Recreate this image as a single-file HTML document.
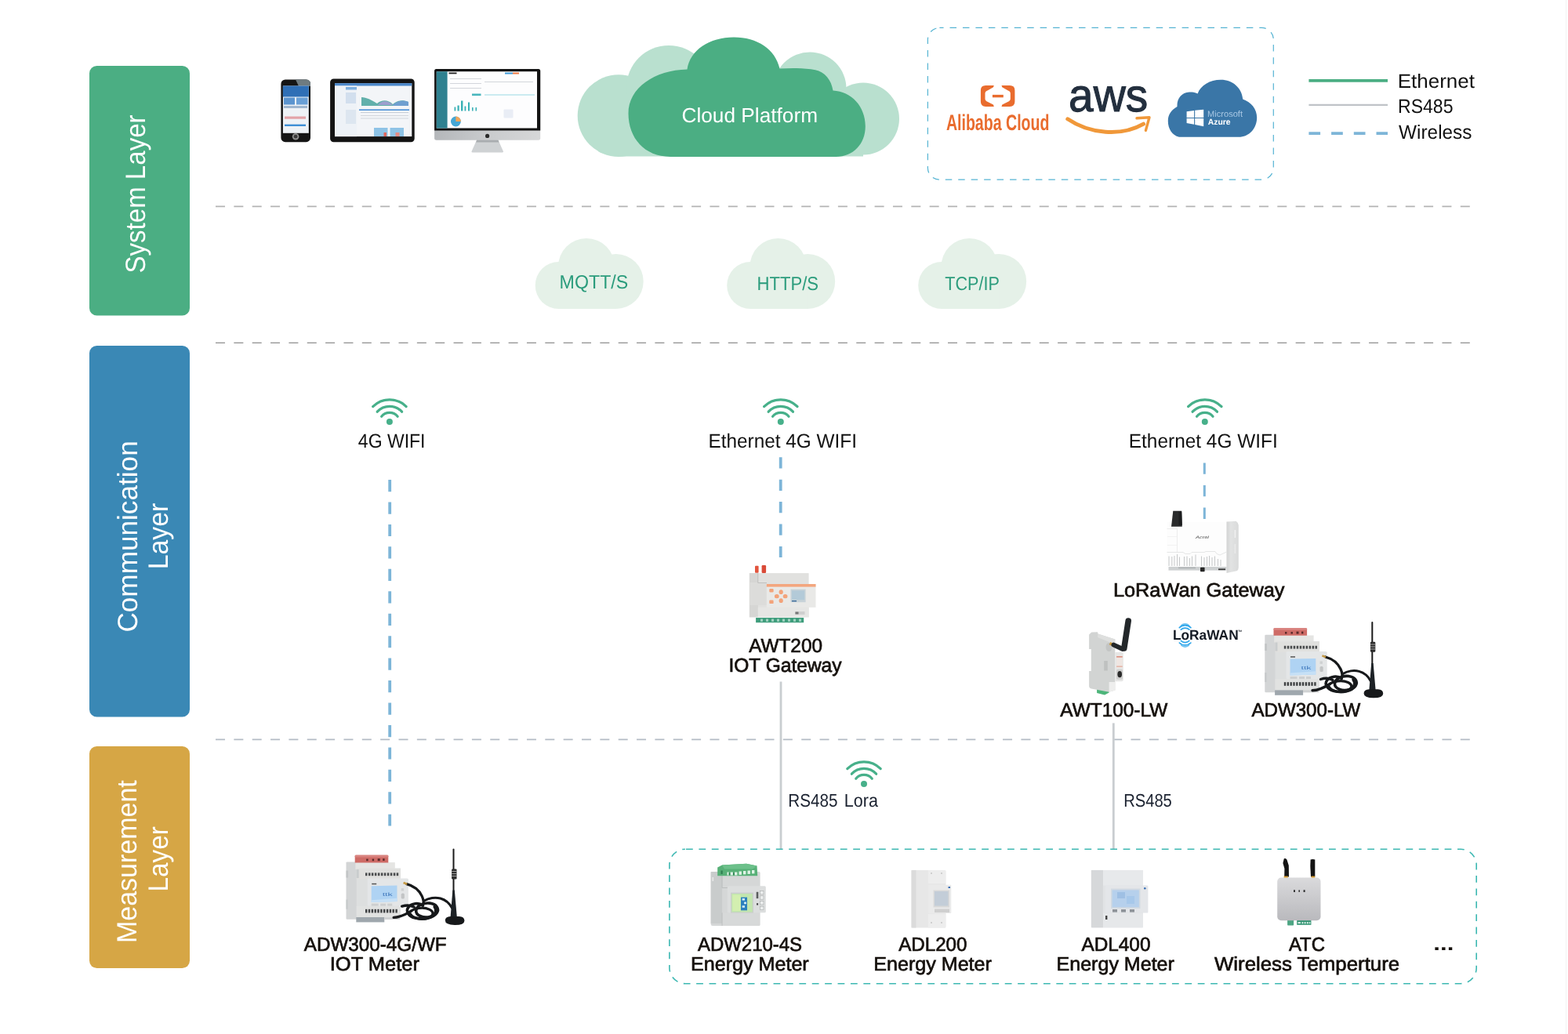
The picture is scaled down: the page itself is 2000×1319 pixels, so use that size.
<!DOCTYPE html>
<html lang="en">
<head>
<meta charset="utf-8">
<title>IoT Energy Monitoring Architecture</title>
<style>
html,body{margin:0;padding:0;background:#fff;}
body{width:2000px;height:1319px;overflow:hidden;font-family:"Liberation Sans", sans-serif;}
svg{display:block;will-change:transform;}
svg text{font-family:"Liberation Sans", sans-serif;text-rendering:geometricPrecision;}
</style>
</head>
<body>
<svg width="2000" height="1319" viewBox="0 0 2000 1319">
<rect x="0" y="0" width="2000" height="1319" fill="#ffffff"/>
<rect x="1997" y="0" width="1.2" height="1319" fill="#f3f3f3"/>
<g id="layers">
<rect x="114" y="84" width="128" height="318.5" rx="9.5" fill="#4BAE83"/>
<rect x="114" y="441" width="128" height="473.5" rx="9.5" fill="#3A88B5"/>
<rect x="114" y="952" width="128" height="283" rx="9.5" fill="#D6A645"/>
<text transform="translate(184.7 347.0) rotate(-90)" x="-1.50" y="0" font-size="35.61" font-weight="400" fill="#fff" textLength="202.05" lengthAdjust="spacingAndGlyphs">System Layer</text>
<text transform="translate(175.0 804.8) rotate(-90)" x="-1.79" y="0" font-size="35.61" font-weight="400" fill="#fff" textLength="244.27" lengthAdjust="spacingAndGlyphs">Communication</text>
<text transform="translate(213.5 723.5) rotate(-90)" x="-2.78" y="0" font-size="35.61" font-weight="400" fill="#fff" textLength="84.64" lengthAdjust="spacingAndGlyphs">Layer</text>
<text transform="translate(174.0 1200.3) rotate(-90)" x="-2.79" y="0" font-size="35.61" font-weight="400" fill="#fff" textLength="207.84" lengthAdjust="spacingAndGlyphs">Measurement</text>
<text transform="translate(213.5 1134.8) rotate(-90)" x="-2.73" y="0" font-size="35.61" font-weight="400" fill="#fff" textLength="83.28" lengthAdjust="spacingAndGlyphs">Layer</text>
</g>
<g id="separators" fill="none">
<path d="M275 263.4H1876" stroke="#b4b4b4" stroke-width="1.8" stroke-dasharray="12 11.35"/>
<path d="M275 437.4H1876" stroke="#8f8f8f" stroke-width="1.1" stroke-dasharray="12 11.35"/>
<path d="M275 943.3H1876" stroke="#b4bcc5" stroke-width="1.8" stroke-dasharray="12 11.35"/>
</g>
<g id="cloud-platform">
<g fill="#B9E0CF">
<circle cx="789" cy="147.6" r="52.3"/><circle cx="853" cy="112" r="54"/>
<circle cx="1033" cy="113" r="46.5"/><circle cx="1101" cy="151.5" r="46"/>
<rect x="789" y="120" width="312" height="79.5"/>
</g>
<path fill="#4BAE83" d="M855 199.9C822 199.9 801.5 176 801.5 144.8C801.5 112 835 89.5 876.5 88.6C880 64 905 47.6 936 47.6C966 47.6 989 63 994.5 87.6C1009 86.6 1026 86.6 1040 89.2C1052 91.5 1060.5 102 1062.5 115.6C1086 116.5 1103.8 136 1103.8 161C1103.8 184 1088 199.9 1066.5 199.9Z"/>
<text x="869.47" y="156.0" font-size="26.16" font-weight="400" fill="#fff" textLength="173.56" lengthAdjust="spacingAndGlyphs" >Cloud Platform</text>
</g>
<g id="legend">
<path d="M1669.4 102.9H1770" stroke="#4BAE83" stroke-width="3.6" fill="none"/>
<path d="M1669.4 133.8H1770" stroke="#BFC3C7" stroke-width="2.2" fill="none"/>
<path d="M1669.4 170.1H1770" stroke="#7DB5D8" stroke-width="3.6" stroke-dasharray="14.7 14" fill="none"/>
<text x="1782.77" y="111.7" font-size="25.00" font-weight="400" fill="#111" textLength="98.22" lengthAdjust="spacingAndGlyphs" >Ethernet</text>
<text x="1783.01" y="143.9" font-size="25.00" font-weight="400" fill="#111" textLength="70.46" lengthAdjust="spacingAndGlyphs" >RS485</text>
<text x="1784.09" y="176.7" font-size="25.00" font-weight="400" fill="#111" textLength="93.39" lengthAdjust="spacingAndGlyphs" >Wireless</text>
</g>
<g id="protocols">
<g fill="#E5F1E8"><circle cx="712.7" cy="364" r="30"/><circle cx="785.7" cy="359" r="35"/><circle cx="748.0" cy="340" r="36"/><rect x="712.7" y="350" width="73" height="44"/></g><text x="713.60" y="367.9" font-size="24.42" font-weight="400" fill="#2B9C7C" textLength="87.67" lengthAdjust="spacingAndGlyphs" >MQTT/S</text>
<g fill="#E5F1E8"><circle cx="957.2" cy="364" r="30"/><circle cx="1030.2" cy="359" r="35"/><circle cx="992.5" cy="340" r="36"/><rect x="957.2" y="350" width="73" height="44"/></g><text x="965.49" y="370.4" font-size="24.42" font-weight="400" fill="#2B9C7C" textLength="78.63" lengthAdjust="spacingAndGlyphs" >HTTP/S</text>
<g fill="#E5F1E8"><circle cx="1201.2" cy="364" r="30"/><circle cx="1274.2" cy="359" r="35"/><circle cx="1236.5" cy="340" r="36"/><rect x="1201.2" y="350" width="73" height="44"/></g><text x="1205.21" y="370.4" font-size="24.42" font-weight="400" fill="#2B9C7C" textLength="69.62" lengthAdjust="spacingAndGlyphs" >TCP/IP</text>
</g>
<g id="wifi">
<g fill="none" stroke="#47B08A" stroke-width="3.2" stroke-linecap="round"><path d="M475.69 518.59A30 30 0 0 1 518.11 518.59"/><path d="M481.25 525.21A21.4 21.4 0 0 1 512.55 525.21"/><path d="M486.64 531.19A13.4 13.4 0 0 1 507.16 531.19"/><circle cx="496.9" cy="538" r="4" fill="#47B08A" stroke="none"/></g>
<text x="456.87" y="571.0" font-size="25.15" font-weight="400" fill="#111" textLength="85.65" lengthAdjust="spacingAndGlyphs" >4G WIFI</text>
<g fill="none" stroke="#47B08A" stroke-width="3.2" stroke-linecap="round"><path d="M974.59 518.59A30 30 0 0 1 1017.01 518.59"/><path d="M980.15 525.21A21.4 21.4 0 0 1 1011.45 525.21"/><path d="M985.54 531.19A13.4 13.4 0 0 1 1006.06 531.19"/><circle cx="995.8" cy="538" r="4" fill="#47B08A" stroke="none"/></g>
<text x="903.50" y="571.0" font-size="25.15" font-weight="400" fill="#111" textLength="189.44" lengthAdjust="spacingAndGlyphs" >Ethernet 4G WIFI</text>
<g fill="none" stroke="#47B08A" stroke-width="3.2" stroke-linecap="round"><path d="M1515.59 518.59A30 30 0 0 1 1558.01 518.59"/><path d="M1521.15 525.21A21.4 21.4 0 0 1 1552.45 525.21"/><path d="M1526.54 531.19A13.4 13.4 0 0 1 1547.06 531.19"/><circle cx="1536.8" cy="538" r="4" fill="#47B08A" stroke="none"/></g>
<text x="1439.80" y="571.3" font-size="25.15" font-weight="400" fill="#111" textLength="189.96" lengthAdjust="spacingAndGlyphs" >Ethernet 4G WIFI</text>
<g fill="none" stroke="#47B08A" stroke-width="3.2" stroke-linecap="round"><path d="M1080.79 980.59A30 30 0 0 1 1123.21 980.59"/><path d="M1086.35 987.21A21.4 21.4 0 0 1 1117.65 987.21"/><path d="M1091.74 993.19A13.4 13.4 0 0 1 1112.26 993.19"/><circle cx="1102" cy="1000" r="4" fill="#47B08A" stroke="none"/></g>
</g>
<g id="links" fill="none">
<path d="M497.2 612V1053.5" stroke="#7DB5D8" stroke-width="3.8" stroke-dasharray="15.2 13.25"/>
<path d="M995.7 583.3V711" stroke="#7DB5D8" stroke-width="3.8" stroke-dasharray="14.2 14.2"/>
<path d="M1536.3 590.4V662" stroke="#7DB5D8" stroke-width="3" stroke-dasharray="14.3 14.3"/>
<path d="M996 869.5V1083" stroke="#C9CDD0" stroke-width="2.8"/>
<path d="M1420.3 922.4V1083" stroke="#C9CDD0" stroke-width="2.8"/>
</g>
<path d="M1198.4 35.4H1609.3A15 15 0 0 1 1624.3 50.4V214.2A15 15 0 0 1 1609.3 229.2H1198.4A15 15 0 0 1 1183.4 214.2V50.4A15 15 0 0 1 1198.4 35.4Z" fill="none" stroke="#56B4D3" stroke-width="1.2" stroke-dasharray="8.5 7.95" stroke-dashoffset="3.35"/>
<path d="M873.9 1083.2H1863.2A20 20 0 0 1 1883.2 1103.2V1234.7A20 20 0 0 1 1863.2 1254.7H873.9A20 20 0 0 1 853.9 1234.7V1103.2A20 20 0 0 1 873.9 1083.2Z" fill="none" stroke="#3DB8B2" stroke-width="1.6" stroke-dasharray="8.8 7.60" stroke-dashoffset="15.30"/>
<g id="labels">
<text x="955.25" y="832.3" font-size="24.71" font-weight="400" fill="#15100c" stroke="#15100c" stroke-width="0.7" textLength="93.69" lengthAdjust="spacingAndGlyphs" >AWT200</text>
<text x="929.44" y="856.6" font-size="24.71" font-weight="400" fill="#15100c" stroke="#15100c" stroke-width="0.7" textLength="144.11" lengthAdjust="spacingAndGlyphs" >IOT Gateway</text>
<text x="1419.93" y="761.4" font-size="24.71" font-weight="400" fill="#15100c" stroke="#15100c" stroke-width="0.7" textLength="218.62" lengthAdjust="spacingAndGlyphs" >LoRaWan Gateway</text>
<text x="1352.35" y="914.0" font-size="24.71" font-weight="400" fill="#15100c" stroke="#15100c" stroke-width="0.7" textLength="136.93" lengthAdjust="spacingAndGlyphs" >AWT100-LW</text>
<text x="1596.45" y="914.0" font-size="24.71" font-weight="400" fill="#15100c" stroke="#15100c" stroke-width="0.7" textLength="138.83" lengthAdjust="spacingAndGlyphs" >ADW300-LW</text>
<text x="1005.31" y="1029.0" font-size="23.26" font-weight="400" fill="#1b2230" textLength="63.16" lengthAdjust="spacingAndGlyphs" >RS485</text>
<text x="1076.83" y="1029.0" font-size="23.26" font-weight="400" fill="#1b2230" textLength="43.17" lengthAdjust="spacingAndGlyphs" >Lora</text>
<text x="1433.14" y="1029.0" font-size="23.26" font-weight="400" fill="#1b2230" textLength="61.70" lengthAdjust="spacingAndGlyphs" >RS485</text>
<text x="387.85" y="1213.1" font-size="24.71" font-weight="400" fill="#15100c" stroke="#15100c" stroke-width="0.7" textLength="181.72" lengthAdjust="spacingAndGlyphs" >ADW300-4G/WF</text>
<text x="420.76" y="1237.7" font-size="24.71" font-weight="400" fill="#15100c" stroke="#15100c" stroke-width="0.7" textLength="114.16" lengthAdjust="spacingAndGlyphs" >IOT Meter</text>
<text x="889.95" y="1213.0" font-size="24.71" font-weight="400" fill="#15100c" stroke="#15100c" stroke-width="0.7" textLength="133.15" lengthAdjust="spacingAndGlyphs" >ADW210-4S</text>
<text x="880.94" y="1237.5" font-size="24.71" font-weight="400" fill="#15100c" stroke="#15100c" stroke-width="0.7" textLength="150.78" lengthAdjust="spacingAndGlyphs" >Energy Meter</text>
<text x="1146.25" y="1213.0" font-size="24.71" font-weight="400" fill="#15100c" stroke="#15100c" stroke-width="0.7" textLength="87.19" lengthAdjust="spacingAndGlyphs" >ADL200</text>
<text x="1114.24" y="1237.5" font-size="24.71" font-weight="400" fill="#15100c" stroke="#15100c" stroke-width="0.7" textLength="150.68" lengthAdjust="spacingAndGlyphs" >Energy Meter</text>
<text x="1379.45" y="1213.0" font-size="24.71" font-weight="400" fill="#15100c" stroke="#15100c" stroke-width="0.7" textLength="88.00" lengthAdjust="spacingAndGlyphs" >ADL400</text>
<text x="1347.54" y="1237.5" font-size="24.71" font-weight="400" fill="#15100c" stroke="#15100c" stroke-width="0.7" textLength="150.37" lengthAdjust="spacingAndGlyphs" >Energy Meter</text>
<text x="1643.96" y="1213.0" font-size="24.71" font-weight="400" fill="#15100c" stroke="#15100c" stroke-width="0.7" textLength="45.92" lengthAdjust="spacingAndGlyphs" >ATC</text>
<text x="1548.99" y="1237.5" font-size="24.71" font-weight="400" fill="#15100c" stroke="#15100c" stroke-width="0.7" textLength="236.14" lengthAdjust="spacingAndGlyphs" >Wireless Temperture</text>
<text x="1828.28" y="1212.0" font-size="24.71" font-weight="700" fill="#15100c" textLength="26.08" lengthAdjust="spacingAndGlyphs" >...</text>
</g>
<g id="screens">
<rect x="358.4" y="101.4" width="37.6" height="79.8" rx="5.5" fill="#151515"/>
<path d="M377 101.6H391a5 5 0 0 1 5 5V110H381Z" fill="#6f7b80"/>
<rect x="360.9" y="109.5" width="32.9" height="60.3" fill="#eef2f6"/>
<rect x="360.9" y="109.5" width="32.9" height="14" fill="#2f6fb6"/>
<rect x="362" y="124.5" width="14" height="9" fill="#5b94cf"/><rect x="378" y="124.5" width="14.5" height="9" fill="#6aa0d6"/>
<rect x="362" y="135" width="30" height="3" fill="#9fb6cf"/>
<rect x="363" y="148.5" width="27" height="3.2" fill="#e3a3a8"/>
<rect x="363" y="158.6" width="27" height="2.4" fill="#3f8fd6"/>
<circle cx="377.1" cy="174.2" r="4.3" fill="#8d8d8d"/><circle cx="377.1" cy="174.2" r="2.4" fill="#3a3a3a"/>
<rect x="421.1" y="100.4" width="107.6" height="80.8" rx="4.5" fill="#141414"/>
<rect x="427" y="106.1" width="98.3" height="68" fill="#f3f5f8"/>
<rect x="427" y="106.1" width="98.3" height="3.4" fill="#4a86c8"/>
<rect x="427" y="109.5" width="28" height="64.6" fill="#eef2f7"/>
<rect x="441" y="111" width="14" height="3.5" fill="#7fb0e0"/>
<rect x="441" y="118" width="13" height="14" fill="#d2dfee"/><rect x="441" y="140" width="13" height="18" fill="#dde6f0"/>
<path d="M461 124C468 124.5 473 127 481 132C487 127 495 127 501 133C507 128 513 127 521 130V135H461Z" fill="#62b0ab"/>
<path d="M482 134C487 127.5 495 127.5 501 134Z" fill="#9c9fce"/>
<path d="M501 134C507 128 514 127.5 521 130V135H501Z" fill="#6f9fd0"/>
<rect x="458" y="139.4" width="64" height="1.6" fill="#4a8fd6"/>
<rect x="460" y="143" width="61" height="1" fill="#c9ced6"/><rect x="460" y="147" width="61" height="1" fill="#d2d6dc"/><rect x="460" y="150.5" width="61" height="1" fill="#d2d6dc"/>
<rect x="477" y="163" width="17.5" height="11" fill="#8ec3e6"/><rect x="497.5" y="163" width="17.5" height="11" fill="#8ec3e6"/>
<rect x="489.5" y="169" width="3.5" height="5" fill="#e0685e"/><rect x="504.5" y="169" width="5" height="5" fill="#e58b84"/>
<path d="M608.3 178H635.2L642 193.2C642 194.2 641 194.6 640 194.6H603.5C602.3 194.6 601.3 194.2 601.5 193.2Z" fill="#cfd2d4"/>
<path d="M608.3 178H635.2L636.6 181.5H607.2Z" fill="#a9adb0"/>
<linearGradient id="chin" x1="0" y1="0" x2="1" y2="0"><stop offset="0" stop-color="#B4B7BA"/><stop offset="0.5" stop-color="#C9CBCD"/><stop offset="1" stop-color="#D6D7D8"/></linearGradient>
<rect x="554.1" y="88" width="135.1" height="90.8" rx="2.5" fill="url(#chin)"/>
<path d="M556.6 88H686.7a2.5 2.5 0 0 1 2.5 2.5V166.6H554.1V90.5a2.5 2.5 0 0 1 2.5-2.5Z" fill="#131313"/>
<rect x="556.8" y="91.2" width="128.2" height="72.3" fill="#fdfdfe"/>
<rect x="556.8" y="91.2" width="13.8" height="72.3" fill="#2f8190"/>
<rect x="572.5" y="92.5" width="10" height="1.8" fill="#222"/>
<rect x="644" y="92.5" width="10" height="2" fill="#3d9ad8"/><rect x="654" y="92.5" width="8" height="2" fill="#ef7b45"/>
<g fill="#38b0b5"><rect x="579.5" y="136.5" width="1.8" height="5"/><rect x="583.5" y="134.5" width="2.2" height="7"/><rect x="588" y="128.5" width="2.4" height="13"/><rect x="592.5" y="135.5" width="1.8" height="6"/><rect x="597" y="130.5" width="2" height="11"/><rect x="602" y="137" width="1.6" height="4.5"/><rect x="606.5" y="137" width="1.6" height="4.5"/></g>
<rect x="602" y="119.5" width="11.5" height="2.6" fill="#49b6bd"/>
<rect x="618" y="120.2" width="64" height="1.6" fill="#bfe6ee"/>
<circle cx="581.4" cy="155" r="6.4" fill="#45a7d6"/><path d="M581.4 155V148.6A6.4 6.4 0 0 1 587.8 155Z" fill="#f2a65a"/>
<rect x="642.5" y="139.5" width="12" height="11" rx="1" fill="#e9edf5"/>
<g fill="#c8ccd2"><rect x="574" y="100" width="40" height="0.8"/><rect x="574" y="106" width="40" height="0.8"/><rect x="574" y="112" width="40" height="0.8"/><rect x="618" y="104" width="62" height="0.8"/></g>
<circle cx="621.6" cy="173.4" r="2.6" fill="#2b2b2b"/>
</g>
<g id="partners">
<path d="M1257.3 108.9H1267.8L1267 111.2L1260 115.2Q1256.5 116.5 1256.5 119V126Q1256.5 128.6 1260 130L1267 133.6L1267.8 135.9H1257.3Q1250.9 135.9 1250.9 129.5V115.3Q1250.9 108.9 1257.3 108.9Z" fill="#E96C2E"/>
<path d="M1257.3 108.9H1267.8L1267 111.2L1260 115.2Q1256.5 116.5 1256.5 119V126Q1256.5 128.6 1260 130L1267 133.6L1267.8 135.9H1257.3Q1250.9 135.9 1250.9 129.5V115.3Q1250.9 108.9 1257.3 108.9Z" fill="#E96C2E" transform="translate(2545.3 0) scale(-1 1)"/>
<rect x="1265.9" y="120.9" width="13.9" height="3.4" fill="#E96C2E"/>
<text x="1206.91" y="165.5" font-size="28.34" font-weight="700" fill="#E96C2E" textLength="131.58" lengthAdjust="spacingAndGlyphs" >Alibaba Cloud</text>
<text x="1363.08" y="142.2" font-size="59.30" font-weight="400" fill="#232F3E" stroke="#232F3E" stroke-width="1.1" textLength="101.17" lengthAdjust="spacingAndGlyphs" >aws</text>
<path d="M1361.8 151.8C1390 171 1430 174.5 1458.5 158.2" fill="none" stroke="#F0983A" stroke-width="5" stroke-linecap="round"/>
<path d="M1450 150.8L1466 149.8L1461.4 166.4" fill="none" stroke="#F0983A" stroke-width="3.4" stroke-linejoin="round" stroke-linecap="round"/>
<path fill="#3A76A7" d="M1504 174.8C1495 172.5 1489.8 164 1489.8 154.4C1489.8 146 1494 140.3 1501.5 136C1501 126 1507 118 1517 117.6C1521 117.4 1525 118 1527.6 119.4C1531.5 109 1543 101.8 1557.2 101.8C1572 101.8 1584 112 1585.2 126.6C1596 130.5 1603.2 139 1603.2 150C1603.2 164 1593 174.8 1580 174.8Z"/>
<g fill="#fff"><path d="M1513.6 142.3L1523.1 140.9V149.9H1513.6Z"/><path d="M1524.2 140.8L1535.2 139.7V149.9H1524.2Z"/><path d="M1513.6 151H1523.1V158.8L1513.6 157.1Z"/><path d="M1524.2 151H1535.2V161.3L1524.2 159Z"/></g>
<text x="1540.09" y="148.8" font-size="11.05" font-weight="400" fill="#a9c8e4" textLength="44.89" lengthAdjust="spacingAndGlyphs" >Microsoft</text>
<text x="1540.74" y="159.4" font-size="10.47" font-weight="700" fill="#ffffff" textLength="28.91" lengthAdjust="spacingAndGlyphs" >Azure</text>
</g>
<g id="awt200">
<rect x="963" y="721.8" width="4.6" height="9" rx="1" fill="#E2553E"/><rect x="971.6" y="721.1" width="5.5" height="9.8" rx="1.2" fill="#D94B38"/>
<rect x="955.9" y="731.1" width="75.7" height="56.2" fill="#E1E1DF"/>
<rect x="955.9" y="731.1" width="11" height="56.2" fill="#D6D6D4"/>
<rect x="955.9" y="743" width="21.9" height="29" fill="#DCDCDA"/>
<rect x="966.8" y="774.8" width="64.8" height="12.5" fill="#E6E6E4"/>
<path d="M966.8 731.1V743.5H978" stroke="#b9b9b7" stroke-width="0.8" fill="none"/>
<rect x="977.8" y="745" width="62.7" height="29.8" fill="#E9E9E7"/>
<rect x="977.8" y="745" width="62.7" height="3.6" fill="#F3A67E"/>
<rect x="1008.5" y="751.6" width="19.1" height="16.6" fill="#C7D2D8"/><rect x="1010" y="753.4" width="16.2" height="11.8" fill="#B3CAD8"/><rect x="1010" y="766" width="6" height="1.4" fill="#3c6a9a"/>
<g fill="#F3A37A"><rect x="981.3" y="751" width="5.3" height="4.5" rx="1.2"/><rect x="981.3" y="765.6" width="5.3" height="4.5" rx="1.2"/>
<ellipse cx="996.2" cy="755.2" rx="2.6" ry="2.9"/><ellipse cx="996.2" cy="766.2" rx="2.6" ry="2.9"/><ellipse cx="990.8" cy="760.7" rx="2.9" ry="2.6"/><ellipse cx="1001.6" cy="760.7" rx="2.9" ry="2.6"/></g>
<rect x="1014" y="780" width="12.5" height="4" fill="#cfcfcf"/><rect x="1014.5" y="780.5" width="4" height="3" fill="#777"/>
<rect x="964.1" y="788" width="61.1" height="6.2" fill="#3F9D7C"/>
<g fill="#9fd2bf"><rect x="970" y="789.5" width="3" height="3.4"/><rect x="977" y="789.5" width="3" height="3.4"/><rect x="984" y="789.5" width="3" height="3.4"/><rect x="991" y="789.5" width="3" height="3.4"/><rect x="998" y="789.5" width="3" height="3.4"/><rect x="1005" y="789.5" width="3" height="3.4"/><rect x="1012" y="789.5" width="3" height="3.4"/><rect x="1019" y="789.5" width="3" height="3.4"/></g>
</g>
<g id="lorawan-gw">
<linearGradient id="gwg" x1="0" y1="0" x2="1" y2="0"><stop offset="0" stop-color="#D2D3D3"/><stop offset="0.35" stop-color="#E2E3E3"/><stop offset="1" stop-color="#D9DADA"/></linearGradient>
<rect x="1488.5" y="666" width="76" height="62" fill="#FDFDFD"/>
<path d="M1488.5 674.5H1501.5V704" stroke="#E9E9E9" stroke-width="0.8" fill="none"/>
<path d="M1489 684.5H1501M1489 695.5H1501" stroke="#EFEFEF" stroke-width="0.8" fill="none"/>
<path d="M1564.5 665.4L1576.5 664.8Q1579.8 667 1579.8 670V724Q1579.8 727 1577.5 728.2L1564.5 731Z" fill="url(#gwg)"/>
<rect x="1574.6" y="676" width="1.6" height="10" fill="#F0F0F0"/><rect x="1574.6" y="694" width="1.6" height="12" fill="#EAEAEA"/>
<path d="M1488.5 704.5H1509L1512 706.5H1518L1520 704.5H1536L1538 703.5H1550L1552 706.5L1556 708L1564.5 704" stroke="#E2E3E3" stroke-width="0.9" fill="none"/>
<g stroke="#C6C8C9" stroke-width="1" fill="none"><path d="M1491 709.5V722M1494.8 710V722M1498 709V722M1501.5 707V722M1504.5 710.5V722M1510.5 710V722M1514 709.5V722M1517.5 712V722M1520.5 709.5V722M1525 707.5V722M1532.5 709.5V722M1536 711V722M1539.5 710V722M1542.5 709V722M1546 711V722M1549.5 709.5V722M1553.5 713V722M1557 714V722"/></g>
<rect x="1490.5" y="723" width="74" height="4.6" fill="#CDD0D1"/>
<rect x="1503" y="723.6" width="22" height="1.6" fill="#AEB2B4"/>
<rect x="1531" y="723.8" width="5.6" height="5.4" rx="0.8" fill="#262626"/>
<rect x="1554" y="725.4" width="9" height="1.8" fill="#3a3a3a"/>
<path d="M1496.3 651.8H1507.2L1507.8 671.8H1494Z" fill="#2a2b2c"/>
<path d="M1503.5 652.5H1507.2L1507.8 670H1503.5Z" fill="#1d1e1f"/>
<text x="1525" y="687.3" font-size="5" font-style="italic" fill="#4a4a4a" textLength="17" lengthAdjust="spacingAndGlyphs">Acrel</text>
</g>
<g id="awt100">
<path d="M1399.1 878.5H1414.6V883.5L1409 886.6L1399.1 884Z" fill="#4DB57A"/>
<path d="M1389.1 809.5L1392.3 806.6L1400 806.2L1400.5 808.5L1422.3 815.5V880.5L1414.6 882.8L1392 878.5Q1389.1 877.8 1389.1 875V856H1391.8V828H1389.1Z" fill="#D2D4D3"/>
<path d="M1400.5 808.5L1422.3 815.5V822L1400 813Z" fill="#DEDFDE"/>
<rect x="1408.2" y="843" width="4.6" height="12.5" fill="#BFC1C0"/>
<ellipse cx="1414.5" cy="825.5" rx="4" ry="5.5" fill="#C3C5C4"/>
<path d="M1414.6 870H1422.8V880.4L1414.6 882.8Z" fill="#EEEEED"/>
<path d="M1422.3 831.9H1430.6Q1432.8 831.9 1432.8 834V867Q1432.8 869.2 1430.6 869.2H1422.3Z" fill="#E6E6E5"/>
<rect x="1424.1" y="836.4" width="7.6" height="15.5" fill="#EFE6E2"/><rect x="1424.1" y="837.2" width="7.6" height="1.3" fill="#D77B68"/><rect x="1424.1" y="849.6" width="7.6" height="1.1" fill="#E0A090"/>
<rect x="1424" y="853.8" width="8" height="13" rx="1.5" fill="#CFCFCE"/><ellipse cx="1428.2" cy="860.2" rx="2.8" ry="4.1" fill="#2a2a2a"/>
<path d="M1415.5 820.6L1420 822.8" stroke="#C9983E" stroke-width="3.6" fill="none"/>
<path d="M1420.5 822.6L1431.5 827.8" stroke="#23272a" stroke-width="6" stroke-linecap="round" fill="none"/>
<path d="M1433.8 827L1439.2 792" stroke="#23272a" stroke-width="7.6" stroke-linecap="round" fill="none"/>
</g>
<g id="adw300-lw" transform="translate(0 0)"><path d="M1613.3 811Q1613.3 809.8 1614.6 809.8H1627V883.2H1614.6Q1613.3 883.2 1613.3 882Z" fill="#D3D5D6"/><rect x="1613.3" y="821" width="2.6" height="9" fill="#C2C5C6"/><rect x="1613.3" y="858" width="2.2" height="12" fill="#C6C9CA"/><rect x="1626.5" y="818" width="56.3" height="63" fill="#DDDFDF"/><rect x="1625.2" y="810.5" width="50.4" height="9" fill="#E5E5E3"/><rect x="1626.5" y="818.3" width="56.3" height="13.6" fill="#E0E0DE"/><rect x="1626.5" y="819.5" width="3" height="11" fill="#C9CCCD"/><g fill="#4a4c4e"><rect x="1637.8" y="823.8" width="2.5" height="3.8"/><rect x="1641.8" y="823.8" width="2.5" height="3.8"/><rect x="1645.7" y="823.8" width="2.5" height="3.8"/><rect x="1649.7" y="823.8" width="2.5" height="3.8"/><rect x="1653.7" y="823.8" width="2.5" height="3.8"/><rect x="1657.7" y="823.8" width="2.5" height="3.8"/><rect x="1661.6" y="823.8" width="2.5" height="3.8"/><rect x="1665.6" y="823.8" width="2.5" height="3.8"/><rect x="1669.6" y="823.8" width="2.5" height="3.8"/><rect x="1673.6" y="823.8" width="2.5" height="3.8"/><rect x="1677.5" y="823.8" width="2.5" height="3.8"/></g><rect x="1626.5" y="866" width="56.3" height="14.6" fill="#E1E2E1"/><g fill="#3f4143"><rect x="1637.8" y="870.2" width="2.4" height="4.6"/><rect x="1641.6" y="870.2" width="2.4" height="4.6"/><rect x="1645.5" y="870.2" width="2.4" height="4.6"/><rect x="1649.3" y="870.2" width="2.4" height="4.6"/><rect x="1653.1" y="870.2" width="2.4" height="4.6"/><rect x="1657.0" y="870.2" width="2.4" height="4.6"/><rect x="1660.8" y="870.2" width="2.4" height="4.6"/><rect x="1664.7" y="870.2" width="2.4" height="4.6"/><rect x="1668.5" y="870.2" width="2.4" height="4.6"/><rect x="1672.3" y="870.2" width="2.4" height="4.6"/><rect x="1676.2" y="870.2" width="2.4" height="4.6"/></g><rect x="1626.1" y="880.4" width="36" height="6.4" fill="#9FA7AD"/><rect x="1662" y="880.4" width="20" height="3" fill="#D0D2D3"/><path d="M1625.8 801.2H1665.8Q1667.1 801.2 1667.1 802.6V810.8H1624.5V802.6Q1624.5 801.2 1625.8 801.2Z" fill="#CE6B66"/><rect x="1624.5" y="801.2" width="42.6" height="2.6" rx="1.2" fill="#D98480"/><g fill="#5a2a2a"><rect x="1639" y="806" width="2.4" height="2.6"/><rect x="1646.5" y="806" width="2.4" height="2.6"/><rect x="1653.5" y="805.6" width="3" height="3"/><rect x="1660" y="805.6" width="2.4" height="2.8"/></g><path d="M1642 830.9H1691Q1692.7 830.9 1692.7 832.6V864.3Q1692.7 866 1691 866H1642Q1640.5 866 1640.5 864.3V832.6Q1640.5 830.9 1642 830.9Z" fill="#E4E6E7"/><path d="M1645.5 840.6L1678.3 839.9V860.4L1645.5 861.5Z" fill="#AFD3F3"/><path d="M1645.5 858.6L1678.3 856.2V860.4L1645.5 861.5Z" fill="#C6E0F6"/><text x="1659.5" y="853.8" font-size="6.4" fill="#3f78bd" textLength="13" lengthAdjust="spacingAndGlyphs">ttk</text><rect x="1646" y="837.2" width="6" height="1.5" fill="#555"/><rect x="1683.5" y="850" width="4.2" height="7" rx="1.6" fill="#C2C4C5"/><rect x="1683.5" y="843.5" width="3.4" height="3.4" fill="#CFD1D2"/><g fill="#CDCFD0"><rect x="1645.5" y="863" width="9" height="3"/><rect x="1657" y="863" width="7" height="3"/><rect x="1666" y="863" width="6" height="3"/></g><g fill="none" stroke="#16181a" stroke-linecap="round"><path stroke-width="3.3" d="M1690.5 838C1700 840.5 1706.5 846 1710 853.5C1712.5 859 1712.5 862.5 1711.2 865.5"/><path stroke-width="3.6" d="M1711.2 865.5C1706 861.5 1696.5 862.5 1692.5 868C1689 873 1693 879.5 1701.5 881.5C1712 884 1724.5 881.5 1729 875C1732.5 869.5 1728.5 863.5 1720 862.5C1711 861.5 1703 866 1702.5 872C1702 878 1712 882.5 1721 879.5C1727.5 877.3 1729.5 871.5 1726 867"/><path stroke-width="3.2" d="M1694 874C1700 868.5 1712 867 1719.5 870.5C1726 873.5 1725 879.5 1717 881.8C1708 884.2 1697.5 881 1695.5 876.5"/><path stroke-width="3.4" d="M1684.5 866.5C1690 864.8 1696 865.2 1700 867.5M1674 880.8C1682 880.5 1690 876.5 1696.5 872.5"/><path stroke-width="3" d="M1713 859.5C1718.5 855.8 1727 854.6 1733.5 856.4C1740 858.2 1745 862.5 1748.2 868.5"/></g><path d="M1686.4 836.4L1691 838.2" stroke="#C59A45" stroke-width="2.6" fill="none"/><rect x="1749.3" y="793" width="2" height="60" rx="1" fill="#1a1a1a"/><rect x="1747.9" y="818.8" width="6.4" height="13" rx="1.2" fill="#2b2b2b"/><g stroke="#b8b8b8" stroke-width="0.9"><path d="M1748 822H1754.2M1748 825H1754.2M1748 828H1754.2"/></g><path d="M1749.2 846H1751.6L1754.6 880H1746.4Z" fill="#1d2226"/><path d="M1739.6 884.5Q1739.6 879.5 1746.5 879.3H1757.5Q1764.2 879.5 1764.2 884.8Q1764.2 890.3 1752 890.3Q1739.6 890.3 1739.6 884.5Z" fill="#17191b"/></g>
<g id="adw300-4g" transform="translate(-1171.8 289.6)"><path d="M1613.3 811Q1613.3 809.8 1614.6 809.8H1627V883.2H1614.6Q1613.3 883.2 1613.3 882Z" fill="#D3D5D6"/><rect x="1613.3" y="821" width="2.6" height="9" fill="#C2C5C6"/><rect x="1613.3" y="858" width="2.2" height="12" fill="#C6C9CA"/><rect x="1626.5" y="818" width="56.3" height="63" fill="#DDDFDF"/><rect x="1625.2" y="810.5" width="50.4" height="9" fill="#E5E5E3"/><rect x="1626.5" y="818.3" width="56.3" height="13.6" fill="#E0E0DE"/><rect x="1626.5" y="819.5" width="3" height="11" fill="#C9CCCD"/><g fill="#4a4c4e"><rect x="1637.8" y="823.8" width="2.5" height="3.8"/><rect x="1641.8" y="823.8" width="2.5" height="3.8"/><rect x="1645.7" y="823.8" width="2.5" height="3.8"/><rect x="1649.7" y="823.8" width="2.5" height="3.8"/><rect x="1653.7" y="823.8" width="2.5" height="3.8"/><rect x="1657.7" y="823.8" width="2.5" height="3.8"/><rect x="1661.6" y="823.8" width="2.5" height="3.8"/><rect x="1665.6" y="823.8" width="2.5" height="3.8"/><rect x="1669.6" y="823.8" width="2.5" height="3.8"/><rect x="1673.6" y="823.8" width="2.5" height="3.8"/><rect x="1677.5" y="823.8" width="2.5" height="3.8"/></g><rect x="1626.5" y="866" width="56.3" height="14.6" fill="#E1E2E1"/><g fill="#3f4143"><rect x="1637.8" y="870.2" width="2.4" height="4.6"/><rect x="1641.6" y="870.2" width="2.4" height="4.6"/><rect x="1645.5" y="870.2" width="2.4" height="4.6"/><rect x="1649.3" y="870.2" width="2.4" height="4.6"/><rect x="1653.1" y="870.2" width="2.4" height="4.6"/><rect x="1657.0" y="870.2" width="2.4" height="4.6"/><rect x="1660.8" y="870.2" width="2.4" height="4.6"/><rect x="1664.7" y="870.2" width="2.4" height="4.6"/><rect x="1668.5" y="870.2" width="2.4" height="4.6"/><rect x="1672.3" y="870.2" width="2.4" height="4.6"/><rect x="1676.2" y="870.2" width="2.4" height="4.6"/></g><rect x="1626.1" y="880.4" width="36" height="6.4" fill="#9FA7AD"/><rect x="1662" y="880.4" width="20" height="3" fill="#D0D2D3"/><path d="M1625.8 801.2H1665.8Q1667.1 801.2 1667.1 802.6V810.8H1624.5V802.6Q1624.5 801.2 1625.8 801.2Z" fill="#CE6B66"/><rect x="1624.5" y="801.2" width="42.6" height="2.6" rx="1.2" fill="#D98480"/><g fill="#5a2a2a"><rect x="1639" y="806" width="2.4" height="2.6"/><rect x="1646.5" y="806" width="2.4" height="2.6"/><rect x="1653.5" y="805.6" width="3" height="3"/><rect x="1660" y="805.6" width="2.4" height="2.8"/></g><path d="M1642 830.9H1691Q1692.7 830.9 1692.7 832.6V864.3Q1692.7 866 1691 866H1642Q1640.5 866 1640.5 864.3V832.6Q1640.5 830.9 1642 830.9Z" fill="#E4E6E7"/><path d="M1645.5 840.6L1678.3 839.9V860.4L1645.5 861.5Z" fill="#AFD3F3"/><path d="M1645.5 858.6L1678.3 856.2V860.4L1645.5 861.5Z" fill="#C6E0F6"/><text x="1659.5" y="853.8" font-size="6.4" fill="#3f78bd" textLength="13" lengthAdjust="spacingAndGlyphs">ttk</text><rect x="1646" y="837.2" width="6" height="1.5" fill="#555"/><rect x="1683.5" y="850" width="4.2" height="7" rx="1.6" fill="#C2C4C5"/><rect x="1683.5" y="843.5" width="3.4" height="3.4" fill="#CFD1D2"/><g fill="#CDCFD0"><rect x="1645.5" y="863" width="9" height="3"/><rect x="1657" y="863" width="7" height="3"/><rect x="1666" y="863" width="6" height="3"/></g><g fill="none" stroke="#16181a" stroke-linecap="round"><path stroke-width="3.3" d="M1690.5 838C1700 840.5 1706.5 846 1710 853.5C1712.5 859 1712.5 862.5 1711.2 865.5"/><path stroke-width="3.6" d="M1711.2 865.5C1706 861.5 1696.5 862.5 1692.5 868C1689 873 1693 879.5 1701.5 881.5C1712 884 1724.5 881.5 1729 875C1732.5 869.5 1728.5 863.5 1720 862.5C1711 861.5 1703 866 1702.5 872C1702 878 1712 882.5 1721 879.5C1727.5 877.3 1729.5 871.5 1726 867"/><path stroke-width="3.2" d="M1694 874C1700 868.5 1712 867 1719.5 870.5C1726 873.5 1725 879.5 1717 881.8C1708 884.2 1697.5 881 1695.5 876.5"/><path stroke-width="3.4" d="M1684.5 866.5C1690 864.8 1696 865.2 1700 867.5M1674 880.8C1682 880.5 1690 876.5 1696.5 872.5"/><path stroke-width="3" d="M1713 859.5C1718.5 855.8 1727 854.6 1733.5 856.4C1740 858.2 1745 862.5 1748.2 868.5"/></g><path d="M1686.4 836.4L1691 838.2" stroke="#C59A45" stroke-width="2.6" fill="none"/><rect x="1749.3" y="793" width="2" height="60" rx="1" fill="#1a1a1a"/><rect x="1747.9" y="818.8" width="6.4" height="13" rx="1.2" fill="#2b2b2b"/><g stroke="#b8b8b8" stroke-width="0.9"><path d="M1748 822H1754.2M1748 825H1754.2M1748 828H1754.2"/></g><path d="M1749.2 846H1751.6L1754.6 880H1746.4Z" fill="#1d2226"/><path d="M1739.6 884.5Q1739.6 879.5 1746.5 879.3H1757.5Q1764.2 879.5 1764.2 884.8Q1764.2 890.3 1752 890.3Q1739.6 890.3 1739.6 884.5Z" fill="#17191b"/></g>
<g id="lorawan-logo">
<g fill="none" stroke="#2EA6EA" stroke-width="1.7" stroke-linecap="round"><path d="M1506.3 803.2A7.6 7.6 0 0 1 1516.9 803.2"/><path d="M1504.3 800.6A10.6 10.6 0 0 1 1518.9 800.6"/><path d="M1506.8 797.8A7 7 0 0 1 1516.4 797.8" opacity="0.7"/><path d="M1506.3 817.4A7.6 7.6 0 0 0 1516.9 817.4"/><path d="M1504.3 820A10.6 10.6 0 0 0 1518.9 820"/><path d="M1506.8 823.2A7 7 0 0 0 1516.4 823.2" opacity="0.7"/></g>
<text x="1495.95" y="815.8" font-size="17.73" font-weight="700" fill="#141a24" textLength="83.70" lengthAdjust="spacingAndGlyphs" >LoRaWAN</text>
<text x="1579.2" y="806" font-size="3.2" font-weight="700" fill="#141a24">TM</text>
</g>
<g id="adw210">
<path d="M906.7 1113.5Q906.7 1112 908.2 1112H968Q969.6 1112 969.6 1113.5V1179.5Q969.6 1181 968 1181H909Q906.7 1181 906.7 1179Z" fill="#D5D7D7"/>
<rect x="906.7" y="1112" width="14.4" height="66" fill="#C9CCCC"/>
<rect x="908.5" y="1119" width="1.6" height="5" fill="#e8e8e8"/>
<path d="M921.1 1112.7V1132.5H928" stroke="#b9bcbc" stroke-width="0.9" fill="none"/>
<rect x="921.1" y="1164.3" width="47.7" height="16.7" fill="#D7D9D9"/>
<path d="M921.1 1164.3V1181" stroke="#bcbfbf" stroke-width="0.9" fill="none"/>
<path d="M929.4 1130.2H975.3Q976.8 1130.2 976.8 1131.7V1162.8Q976.8 1164.3 975.3 1164.3H929.4Q927.9 1164.3 927.9 1162.8V1131.7Q927.9 1130.2 929.4 1130.2Z" fill="#DCDEDE"/>
<rect x="932" y="1138.6" width="29" height="26" fill="#CACDCD"/>
<rect x="933.2" y="1140" width="26.6" height="23.5" fill="#C2E6AE"/>
<rect x="934.5" y="1141.5" width="10" height="20.5" fill="#D3EFB0"/>
<rect x="945" y="1144.6" width="8" height="16.7" fill="#2C80BE"/><g fill="#cfeaf2"><rect x="946.6" y="1146" width="3.4" height="2.6"/><rect x="949" y="1150.6" width="3" height="2.6"/><rect x="946.6" y="1155.2" width="3.4" height="2.6"/></g>
<rect x="964.7" y="1137.8" width="2.6" height="8.3" fill="#5a5d5d"/><rect x="965" y="1152.2" width="2.1" height="2.3" fill="#444"/>
<g fill="#ECEEEE" stroke="#a8abab" stroke-width="0.6"><rect x="969.4" y="1136.5" width="4.6" height="4.4"/><rect x="969.4" y="1142.8" width="4.6" height="4.4"/><rect x="969.4" y="1149.6" width="4.6" height="4.4"/><rect x="969.4" y="1156.2" width="4.6" height="4.4"/></g>
<path d="M915.2 1106.5L921 1103.5L952 1101.8L965.5 1104.5L966.2 1117.3H915.2Z" fill="#57B077"/>
<path d="M921 1103.5L952 1101.8L965.5 1104.5L960 1108.5H924Z" fill="#6CC08A"/>
<g fill="#dff3e6"><rect x="927.5" y="1112.5" width="2.2" height="4"/><rect x="931.5" y="1112.5" width="3.4" height="4"/><rect x="937" y="1112.5" width="3.4" height="4"/><rect x="942.5" y="1111.5" width="3.4" height="4.4"/><rect x="948" y="1111" width="3.4" height="4.4"/><rect x="953.5" y="1110.5" width="3.4" height="4.4"/><rect x="959" y="1110" width="3.4" height="4.4"/></g>
<g fill="#2f7f52"><rect x="919.5" y="1110.5" width="2.2" height="4.5"/><rect x="929.7" y="1113.2" width="1.6" height="3"/><rect x="935" y="1113.2" width="1.6" height="3"/></g>
</g>
<g id="adl200">
<rect x="1162.5" y="1110" width="44" height="73.5" rx="1.5" fill="#E7E7E7"/>
<rect x="1162.5" y="1110" width="6" height="73.5" fill="#DBDBDB"/>
<rect x="1184" y="1110" width="22" height="17" fill="#EDEDED"/>
<rect x="1184" y="1128.8" width="29.3" height="36.2" rx="1" fill="#EAEAEA"/>
<rect x="1190.5" y="1135.5" width="20.5" height="22" fill="#D9D9D9"/>
<rect x="1192" y="1137" width="17.5" height="18.5" fill="#C3CDD8"/>
<rect x="1192" y="1159.5" width="19" height="4.5" fill="#CFCFCF"/>
<rect x="1209.5" y="1131" width="2.5" height="2" fill="#3b6fb5"/>
<rect x="1184" y="1166" width="22" height="17.5" fill="#EDEDED"/>
<g fill="#cfcfcf"><rect x="1187" y="1113" width="2" height="2"/><rect x="1200" y="1113" width="2" height="2"/><rect x="1187" y="1176" width="2" height="2"/><rect x="1200" y="1176" width="2" height="2"/></g>
</g>
<g id="adl400">
<rect x="1391.9" y="1110" width="66" height="73.3" rx="1.5" fill="#E1E3E5"/>
<rect x="1391.9" y="1110" width="15" height="73.3" fill="#D6D8DA"/>
<rect x="1407" y="1110" width="51" height="19.5" fill="#E7E9EB"/>
<rect x="1409.9" y="1129.6" width="54.5" height="35" rx="1.2" fill="#E4E6E9"/>
<rect x="1417" y="1133.5" width="37.5" height="25.5" fill="#D2DAE2"/>
<rect x="1418.6" y="1135.4" width="34.2" height="21.8" fill="#B6D0EC"/>
<rect x="1425" y="1138" width="10" height="8" fill="#9fc0e4"/><rect x="1437" y="1143" width="10" height="10" fill="#a7c8ea"/>
<rect x="1459" y="1132" width="2.6" height="2.6" rx="1.3" fill="#3a6fb4"/>
<g fill="#8e9399"><rect x="1419" y="1160" width="6" height="3.6"/><rect x="1430" y="1160" width="6" height="3.6"/><rect x="1441" y="1160" width="6" height="3.6"/></g>
<rect x="1407" y="1165" width="51" height="18.3" fill="#E6E8EA"/>
<rect x="1410" y="1168" width="2.4" height="5" fill="#444"/>
</g>
<g id="atc">
<linearGradient id="atcg" x1="0" y1="0" x2="0" y2="1"><stop offset="0" stop-color="#DADADC"/><stop offset="1" stop-color="#B9B9BD"/></linearGradient>
<path d="M1637.8 1095.2Q1640.2 1094.2 1641.4 1096.5L1643.8 1104L1644 1118.5H1638.2L1638.4 1108L1636.4 1101Z" fill="#141414"/>
<path d="M1671.6 1096.5Q1674.5 1095.3 1677.3 1096.6L1677.3 1118.5H1672L1671.3 1105Z" fill="#141414"/>
<rect x="1637.6" y="1117.6" width="5.2" height="3.4" fill="#DDA032"/><rect x="1672.6" y="1117.6" width="4.6" height="3.4" fill="#DDA032"/>
<rect x="1642.1" y="1173.5" width="8" height="7" rx="0.8" fill="#4DA583"/><rect x="1654.2" y="1173.5" width="18.2" height="6.3" fill="#2F9270"/>
<g fill="#cfeadf"><rect x="1655.4" y="1176" width="3.6" height="2.2"/><rect x="1660.4" y="1176" width="2" height="2.4"/><rect x="1663.6" y="1176" width="2" height="2.4"/><rect x="1666.8" y="1176" width="2" height="2.4"/><rect x="1669.8" y="1176" width="1.6" height="2.4"/></g>
<rect x="1629.2" y="1119.5" width="55.3" height="54.7" rx="5" fill="url(#atcg)"/>
<g fill="#2d2d2d"><rect x="1650" y="1135.2" width="1.9" height="2.8"/><rect x="1656.4" y="1135.4" width="1.6" height="2.4"/><rect x="1662.6" y="1135.2" width="2" height="2.8"/></g>
</g>
</svg>
</body>
</html>
